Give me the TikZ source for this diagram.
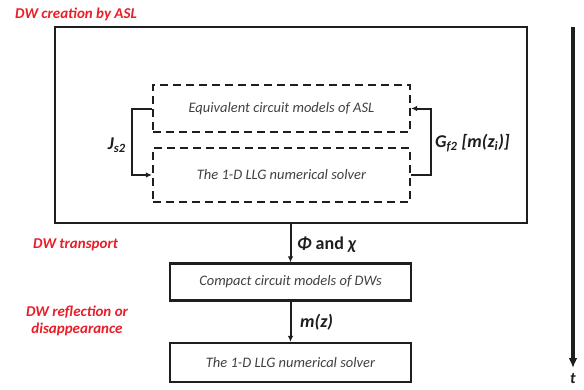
\documentclass[tikz,border=0pt]{standalone}
\usepackage{fontspec}
\setmainfont{Carlito}
\usetikzlibrary{arrows.meta}
\definecolor{stagered}{RGB}{232,30,40}
\definecolor{ink}{RGB}{30,30,30}

\tikzset{
  solidbox/.style={draw=ink, line width=2.2pt, rectangle, inner sep=0pt,
    font=\fontsize{14.5}{16}\selectfont\itshape, text=ink!85},
  dashbox/.style={draw=ink, line width=2.2pt, dash pattern=on 8pt off 5pt,
    rectangle, inner sep=0pt, font=\fontsize{14.5}{16}\selectfont\itshape, text=ink!85},
  flow/.style={draw=ink, line width=2pt, -{Latex[length=6pt,width=5.5pt]}},
  stage/.style={text=stagered, font=\fontsize{15}{17}\selectfont\bfseries\itshape,
    align=center, inner sep=0pt},
  qty/.style={text=ink, font=\fontsize{18}{20}\selectfont\bfseries\itshape, inner sep=0pt}
}

\begin{document}
\begin{tikzpicture}[x=1pt, y=-1pt]
\useasboundingbox (0,0) rectangle (584,389);

% stage blocks
\node[solidbox, minimum width=472pt, minimum height=196pt] (outer) at (291,125) {};
\node[dashbox, minimum width=257pt, minimum height=47pt] (eq) at (281.5,108.5)
  {Equivalent circuit models of ASL};
\node[dashbox, minimum width=257pt, minimum height=54pt] (llga) at (281.5,175)
  {The 1-D LLG numerical solver};
\node[solidbox, minimum width=241pt, minimum height=37pt] (compact) at (290.5,282)
  {Compact circuit models of DWs};
\node[solidbox, minimum width=241pt, minimum height=39pt] (llgb) at (290.5,362.5)
  {The 1-D LLG numerical solver};

% feedback loop between the two solvers
\draw[flow] (eq.west) -- ++(-20,0) |- (llga.west);
\draw[flow] (llga.east) -- ++(20,0) |- (eq.east);
\node[qty, anchor=east] (js) at (126,145) {J\textsubscript{s2}};
\node[qty, anchor=west] (gf) at (435,143) {G\textsubscript{f2} [m(z\textsubscript{i})]};

% hand-over between stages
\draw[flow] (outer.south -| compact.north) -- (compact.north);
\draw[flow] (compact.south) -- (llgb.north);
\node[qty, anchor=west] (phichi) at (297,245) {Φ {\upshape and} χ};
\node[qty, anchor=west] (mz) at (300,322) {m(z)};

% stage names
\node[stage, anchor=west] (s1) at (15,14) {DW creation by ASL};
\node[stage, anchor=west] (s2) at (33,245) {DW transport};
\node[stage] (s3) at (77,321) {DW reflection or\\disappearance};

% time axis
\coordinate (ttop) at (573,27);
\coordinate (ttip) at (573,368);
\node[qty, font=\fontsize{16}{18}\selectfont\bfseries\itshape, anchor=north] (t) at (573,373) {t};
\draw[draw=ink, line width=3.2pt, -{Latex[length=10pt,width=9pt]}] (ttop) -- (ttip);
\end{tikzpicture}
\end{document}
